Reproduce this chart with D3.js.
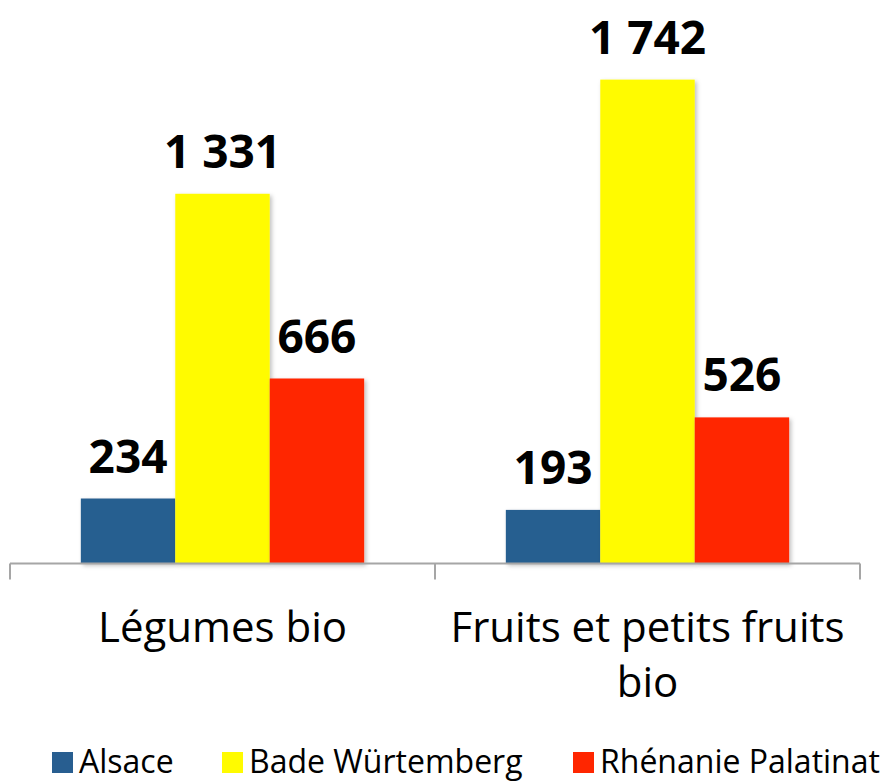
<!DOCTYPE html>
<html>
<head>
<meta charset="utf-8">
<script src="https://cdn.jsdelivr.net/npm/d3@7"></script>
<style>
  body { margin: 0; background: #fff; }
  text { font-family: "Open Sans", sans-serif; }
</style>
</head>
<body>
<svg id="vis"></svg>
<script>
// data
var categories = ["Légumes bio", "Fruits et petits fruits bio"];
var categoryLines = [["Légumes bio"], ["Fruits et petits fruits", "bio"]];
var regions = ["Alsace", "Bade Würtemberg", "Rhénanie Palatinat"];
var alsace = [234, 193];
var bade = [1331, 1742];
var rhenanie = [666, 526];
var seriesValues = [alsace, bade, rhenanie];
var colors = ["#285e90", "#fffb00", "#ff2600"];

var width = 892;
var height = 783;

var svg = d3.select("#vis").attr("width", width).attr("height", height);

var defs = svg.append("defs");
var shadow = defs.append("filter").attr("id", "shadow")
    .attr("x", "-10%").attr("y", "-10%").attr("width", "130%").attr("height", "130%");
shadow.append("feDropShadow")
    .attr("dx", 2).attr("dy", 2).attr("stdDeviation", 2)
    .attr("flood-color", "#000").attr("flood-opacity", 0.25);

var baseY = 563.5;

//scales
var x0 = d3.scaleBand().domain(categories).range([10, 860]).paddingInner(0).paddingOuter(0);
var x1 = d3.scaleBand().domain(regions).range([0, x0.bandwidth()]).paddingInner(0).paddingOuter(0.75);
var y = d3.scaleLinear().domain([0, 1800]).range([baseY, baseY - 500]);

//bars
var groups = svg.append("g").attr("class", "bars")
    .selectAll("g")
    .data(categories)
    .enter()
    .append("g")
    .attr("transform", function(d){ return "translate(" + x0(d) + ",0)"; });

groups.selectAll("rect")
    .data(function(d, i){ return regions.map(function(r, j){ return {region: r, value: seriesValues[j][i], j: j}; }); })
    .enter()
    .append("rect")
    .attr("x", function(d){ return x1(d.region); })
    .attr("y", function(d){ return y(d.value); })
    .attr("width", x1.bandwidth())
    .attr("height", function(d){ return baseY - y(d.value); })
    .attr("fill", function(d){ return colors[d.j]; })
    .attr("filter", "url(#shadow)");

//value labels
var fmt = function(v){ return d3.format(",")(v).replace(/,/g, " "); };
groups.selectAll("text.val")
    .data(function(d, i){ return regions.map(function(r, j){ return {region: r, value: seriesValues[j][i]}; }); })
    .enter()
    .append("text")
    .attr("class", "val")
    .attr("x", function(d){ return x1(d.region) + x1.bandwidth() / 2; })
    .attr("y", function(d){ return y(d.value) - 26; })
    .attr("text-anchor", "middle")
    .style("font-weight", "bold")
    .style("font-size", "46px")
    .style("fill", "#000")
    .text(function(d){ return fmt(d.value); });

//axis line and ticks at band edges
var axis = svg.append("g").attr("class", "axis");
axis.append("line")
    .attr("x1", x0.range()[0]).attr("x2", x0.range()[1])
    .attr("y1", baseY).attr("y2", baseY)
    .attr("stroke", "#a6a6a6").attr("stroke-width", 2);
var edges = categories.map(function(c){ return x0(c); }).concat([x0.range()[1]]);
axis.selectAll("line.tick")
    .data(edges)
    .enter()
    .append("line")
    .attr("class", "tick")
    .attr("x1", function(d){ return d; }).attr("x2", function(d){ return d; })
    .attr("y1", baseY).attr("y2", baseY + 16)
    .attr("stroke", "#a6a6a6").attr("stroke-width", 2);

//category labels
var catLabels = svg.append("g").attr("class", "catLabels")
    .selectAll("text")
    .data(categories)
    .enter()
    .append("text")
    .attr("text-anchor", "middle")
    .attr("y", 642)
    .style("font-size", "42px")
    .style("fill", "#000");
catLabels.each(function(d, i){
    var t = d3.select(this);
    categoryLines[i].forEach(function(line, k){
        t.append("tspan")
            .attr("x", x0(d) + x0.bandwidth() / 2)
            .attr("dy", k == 0 ? 0 : 55)
            .text(line);
    });
});

//legend
var legendX = [52, 222, 573];
var legend = svg.append("g").attr("class", "legend")
    .selectAll("g")
    .data(regions)
    .enter()
    .append("g")
    .attr("transform", function(d, i){ return "translate(" + legendX[i] + ",752)"; });
legend.append("rect")
    .attr("width", 21).attr("height", 21)
    .attr("fill", function(d, i){ return colors[i]; });
legend.append("text")
    .attr("x", 27).attr("y", 21)
    .style("font-size", "32px")
    .style("fill", "#000")
    .text(function(d){ return d; });
</script>
</body>
</html>
